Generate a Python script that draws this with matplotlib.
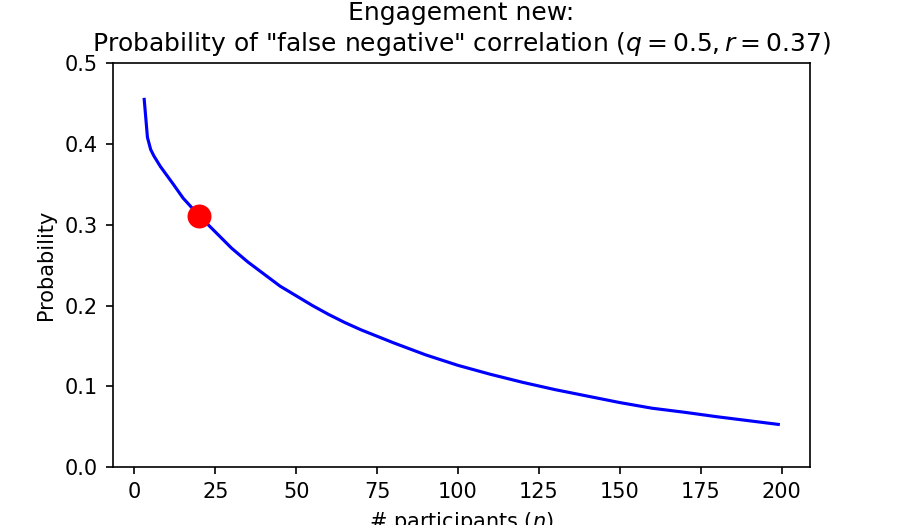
import matplotlib
matplotlib.use('Agg')
import matplotlib.pyplot as plt

# values
n_values = [3, 4, 5, 6, 8, 10, 12, 15, 20, 25, 30, 35, 40, 45, 50, 55, 60, 65,
            70, 75, 80, 90, 100, 110, 120, 130, 140, 150, 160, 170, 180, 190, 199]
prob_values = [0.455, 0.408, 0.393, 0.385, 0.372, 0.361, 0.350, 0.333, 0.311,
               0.291, 0.271, 0.254, 0.239, 0.224, 0.212, 0.200, 0.189, 0.179,
               0.170, 0.162, 0.154, 0.139, 0.126, 0.115, 0.105, 0.096, 0.088,
               0.080, 0.073, 0.068, 0.0625, 0.0575, 0.053]

current_n = [20]
current_prob = [0.311]

TITLE = 'Engagement new:\nProbability of "false negative" correlation ($q=0.5, r=0.37$)'


def plotResults():
    fig, ax = plt.subplots(figsize=(6, 3.5), dpi=150)
    ax.plot(n_values, prob_values, color='blue')
    ax.plot(current_n, current_prob, 'o', color='red', markersize=10.5)
    ax.set_ylim(0, 0.5)
    ax.set_title(TITLE)
    ax.set_xlabel('# participants ($n$)')
    ax.set_ylabel('Probability')
    fig.savefig('out.png', dpi=150)


if __name__ == "__main__":
    plotResults()
